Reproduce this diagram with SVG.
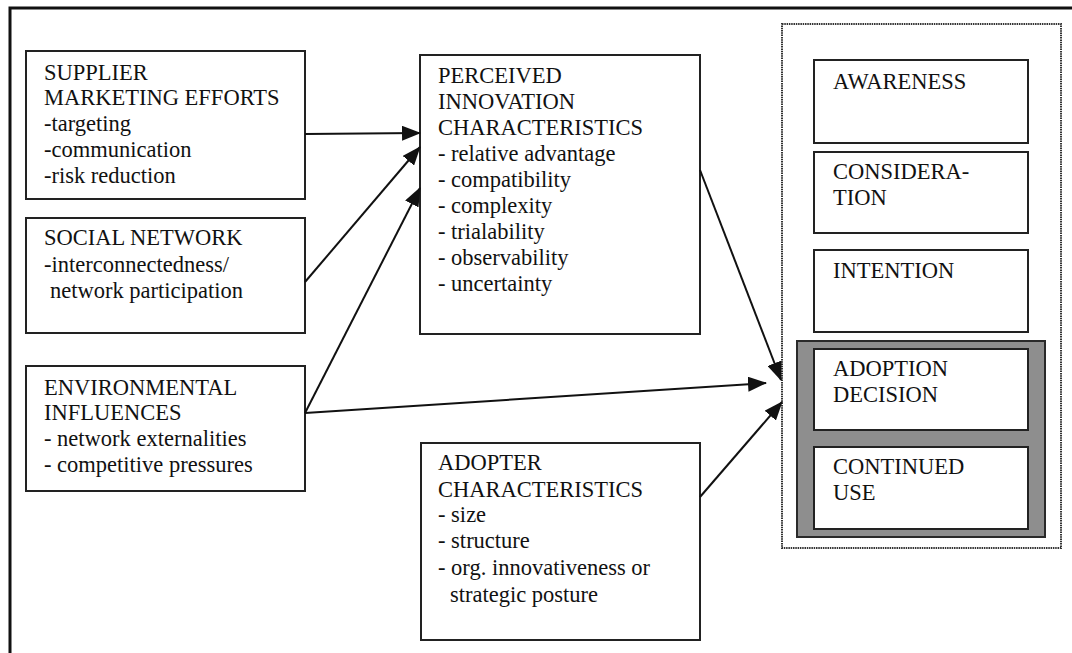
<svg xmlns="http://www.w3.org/2000/svg" width="1072" height="653" viewBox="0 0 1072 653">
  <defs>
    <style>
      .box { fill: #fff; stroke: #222; stroke-width: 2; }
      .lbl { font-family: "Liberation Serif", "Times New Roman", serif; font-size: 22.5px; fill: #111; }
      .conn { stroke: #111; stroke-width: 2; fill: none; marker-end: url(#head); }
      .stage { fill: none; stroke: #333; stroke-width: 2; stroke-dasharray: 1.5 0.8; }
      .band { fill: #8e8e8e; stroke: #2a2a2a; stroke-width: 2; }
    </style>
    <marker id="head" markerUnits="userSpaceOnUse" markerWidth="19" markerHeight="15" refX="18" refY="7.5" orient="auto">
      <path d="M0,0 L19,7.5 L0,15 z" fill="#111"/>
    </marker>
  </defs>

  <rect width="1072" height="653" fill="#fff"/>
  <!-- page frame (runs off the right and bottom edges) -->
  <rect x="10" y="8" width="1100" height="700" fill="none" stroke="#111" stroke-width="3"/>

  <g id="supplier">
    <rect class="box" x="26" y="51" width="279" height="148"/>
    <text class="lbl" x="44" y="80">SUPPLIER</text>
    <text class="lbl" x="44" y="105">MARKETING EFFORTS</text>
    <text class="lbl" x="44" y="131">-targeting</text>
    <text class="lbl" x="44" y="157">-communication</text>
    <text class="lbl" x="44" y="183">-risk reduction</text>
  </g>

  <g id="social">
    <rect class="box" x="26" y="218" width="279" height="115"/>
    <text class="lbl" x="44" y="245">SOCIAL NETWORK</text>
    <text class="lbl" x="44" y="272">-interconnectedness/</text>
    <text class="lbl" x="50" y="298">network participation</text>
  </g>

  <g id="environment">
    <rect class="box" x="26" y="366" width="279" height="125"/>
    <text class="lbl" x="44" y="395">ENVIRONMENTAL</text>
    <text class="lbl" x="44" y="420">INFLUENCES</text>
    <text class="lbl" x="44" y="446">- network externalities</text>
    <text class="lbl" x="44" y="472">- competitive pressures</text>
  </g>

  <g id="perceived">
    <rect class="box" x="420" y="55" width="280" height="279"/>
    <text class="lbl" x="438" y="83">PERCEIVED</text>
    <text class="lbl" x="438" y="109">INNOVATION</text>
    <text class="lbl" x="438" y="135">CHARACTERISTICS</text>
    <text class="lbl" x="438" y="161">- relative advantage</text>
    <text class="lbl" x="438" y="187">- compatibility</text>
    <text class="lbl" x="438" y="213">- complexity</text>
    <text class="lbl" x="438" y="239">- trialability</text>
    <text class="lbl" x="438" y="265">- observability</text>
    <text class="lbl" x="438" y="291">- uncertainty</text>
  </g>

  <g id="adopter">
    <rect class="box" x="421" y="443" width="279" height="197"/>
    <text class="lbl" x="438" y="470">ADOPTER</text>
    <text class="lbl" x="438" y="497">CHARACTERISTICS</text>
    <text class="lbl" x="438" y="522">- size</text>
    <text class="lbl" x="438" y="548">- structure</text>
    <text class="lbl" x="438" y="575">- org. innovativeness or</text>
    <text class="lbl" x="450" y="602">strategic posture</text>
  </g>

  <g id="stages">
    <rect class="stage" x="782" y="24" width="279" height="524"/>
    <g id="awareness">
      <rect class="box" x="814" y="60" width="214" height="83"/>
      <text class="lbl" x="833" y="89">AWARENESS</text>
    </g>
    <g id="consideration">
      <rect class="box" x="814" y="152" width="214" height="81"/>
      <text class="lbl" x="833" y="179">CONSIDERA-</text>
      <text class="lbl" x="833" y="205">TION</text>
    </g>
    <g id="intention">
      <rect class="box" x="814" y="250" width="214" height="82"/>
      <text class="lbl" x="833" y="278">INTENTION</text>
    </g>
    <!-- shaded band behind the adoption and continued-use boxes -->
    <rect class="band" x="797" y="341" width="248" height="196"/>
    <g id="adoption">
      <rect class="box" x="814" y="349" width="214" height="81"/>
      <text class="lbl" x="833" y="376">ADOPTION</text>
      <text class="lbl" x="833" y="402">DECISION</text>
    </g>
    <g id="continued">
      <rect class="box" x="814" y="447" width="214" height="82"/>
      <text class="lbl" x="833" y="474">CONTINUED</text>
      <text class="lbl" x="833" y="500">USE</text>
    </g>
  </g>

  <g id="connectors">
    <line class="conn" x1="305" y1="134" x2="420" y2="133"/>
    <line class="conn" x1="305" y1="282" x2="420" y2="147"/>
    <line class="conn" x1="305" y1="413" x2="420" y2="188"/>
    <line class="conn" x1="305" y1="413" x2="766" y2="383"/>
    <line class="conn" x1="700" y1="170" x2="781" y2="380"/>
    <line class="conn" x1="700" y1="497" x2="782" y2="402"/>
  </g>
</svg>
